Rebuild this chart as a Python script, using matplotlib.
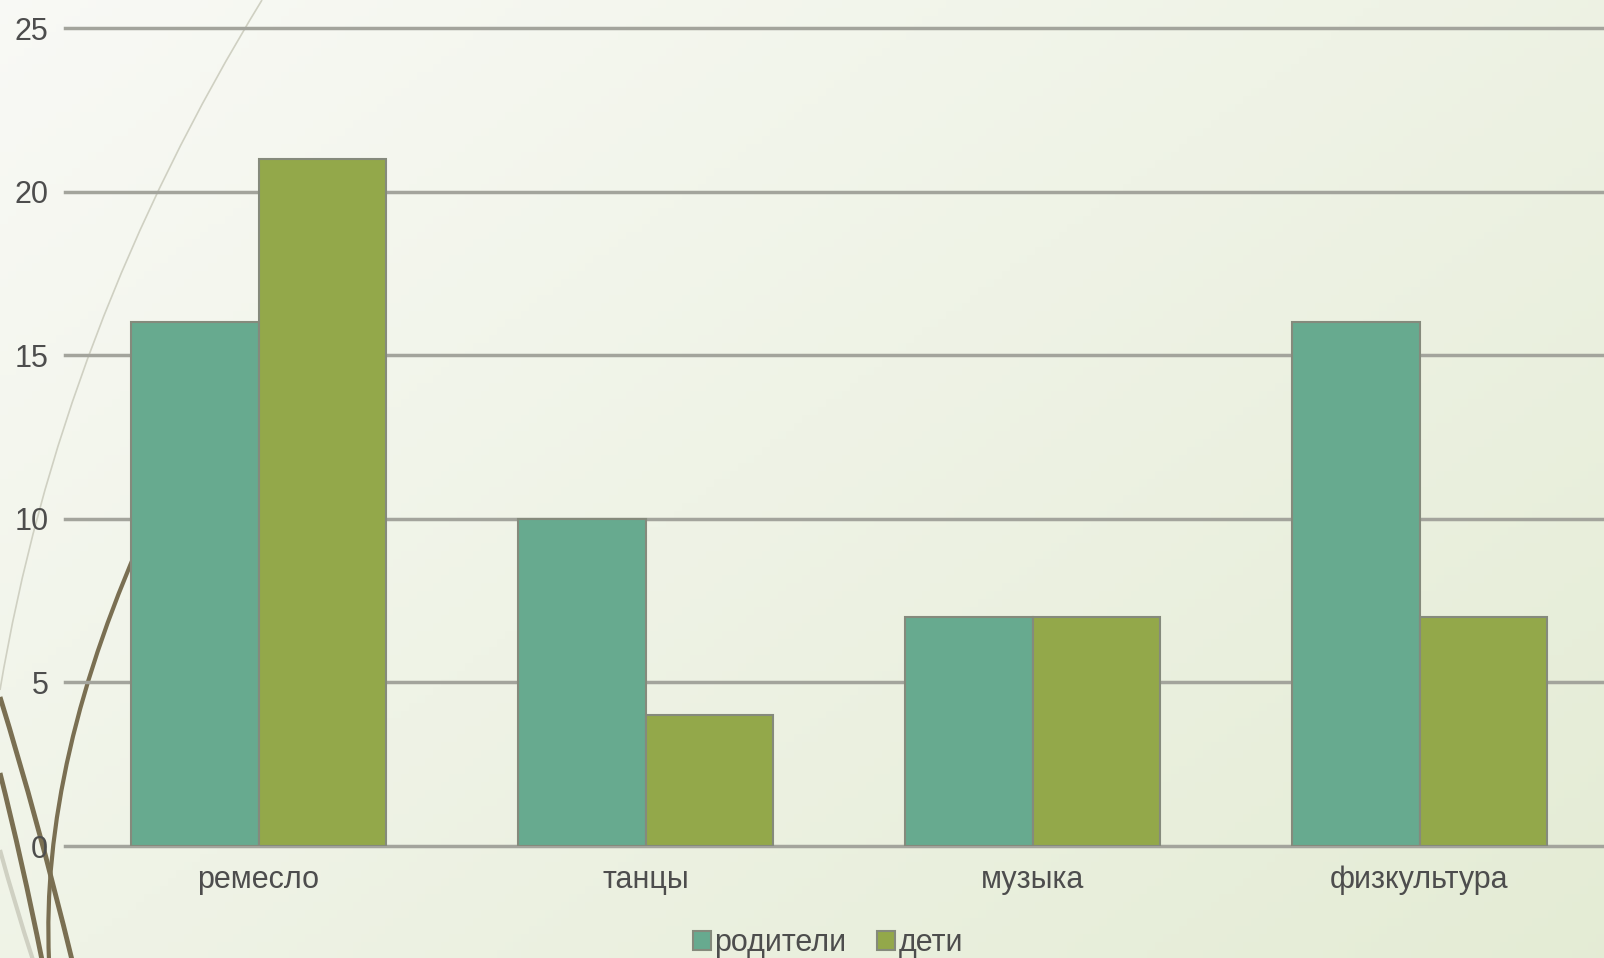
import matplotlib
matplotlib.use("Agg")
import matplotlib.pyplot as plt
import numpy as np
from matplotlib.path import Path
from matplotlib.patches import PathPatch

# chart data
categories = ["ремесло", "танцы", "музыка", "физкультура"]
series_names = ["родители", "дети"]
parents = [16, 10, 7, 16]
children = [21, 4, 7, 7]
y_ticks = [0, 5, 10, 15, 20, 25]

# styles
color_parents = "#67aa8f"
color_children = "#93a84a"
edge_color = "#858a7c"
grid_color = "#a3a49c"
text_color = "#4d4d4d"
W, H = 1604, 958

plt.rcParams['font.family'] = ['Liberation Sans', 'DejaVu Sans']

fig = plt.figure(figsize=(W / 100, H / 100), dpi=100)

# background gradient + decorative curves (pixel coordinates)
bg_ax = fig.add_axes([0, 0, 1, 1], zorder=-10)
xx, yy = np.meshgrid(np.linspace(0, 1, 200), np.linspace(0, 1, 120))
t = np.clip(0.55 * xx + 0.45 * yy, 0, 1)
c0 = np.array([0.975, 0.978, 0.962])
c1 = np.array([0.895, 0.925, 0.835])
grad = c0[None, None, :] * (1 - t[..., None]) + c1[None, None, :] * t[..., None]
bg_ax.imshow(grad, extent=[0, W, H, 0], aspect="auto")
bg_ax.set_xlim(0, W)
bg_ax.set_ylim(H, 0)
bg_ax.axis("off")

def curve(p0, c, p1, color, lw):
    path = Path([p0, c, p1], [Path.MOVETO, Path.CURVE3, Path.CURVE3])
    bg_ax.add_patch(PathPatch(path, fc="none", ec=color, lw=lw))

curve((262, 0), (60, 330), (0, 690), "#cfd0c2", 1.2)
curve((0, 850), (15, 905), (33, 960), "#cfd0c2", 3)
curve((150, 520), (40, 760), (49, 960), "#7a6f52", 3)
curve((0, 697), (38, 820), (72, 960), "#7a6f52", 3.5)
curve((0, 773), (22, 860), (42, 960), "#7a6f52", 3.5)

# main chart
left, right = 65, W
top, bottom = 28, 846
ax = fig.add_axes([left / W, (H - bottom) / H, (right - left) / W, (bottom - top) / H])
ax.patch.set_alpha(0)

x = np.arange(len(categories))
bar_w = 0.33
ax.bar(x - bar_w / 2, parents, bar_w, color=color_parents, edgecolor=edge_color,
       linewidth=1.5, label=series_names[0], zorder=3)
ax.bar(x + bar_w / 2, children, bar_w, color=color_children, edgecolor=edge_color,
       linewidth=1.5, label=series_names[1], zorder=3)

ax.set_ylim(0, 25)
ax.set_xlim(-0.5, -0.5 + (right - left) / 387.0)
ax.set_yticks(y_ticks)
ax.set_xticks(x)
ax.set_xticklabels(categories)
ax.yaxis.grid(True, color=grid_color, linewidth=2.5, zorder=0)
ax.set_axisbelow(True)
for gl in ax.get_ygridlines():
    gl.set_clip_on(False)
for s in ax.spines.values():
    s.set_visible(False)
ax.tick_params(axis="both", length=0, labelsize=22, colors=text_color)
ax.tick_params(axis="y", pad=12)
ax.tick_params(axis="x", pad=14)

leg = fig.legend(loc="center", bbox_to_anchor=(828 / W, 1 - 943 / H), ncol=2,
                 frameon=False, fontsize=22, handlelength=0.6, handleheight=0.6,
                 handletextpad=0.1, columnspacing=1.0)
for txt in leg.get_texts():
    txt.set_color(text_color)

fig.savefig("out.png", dpi=100)
